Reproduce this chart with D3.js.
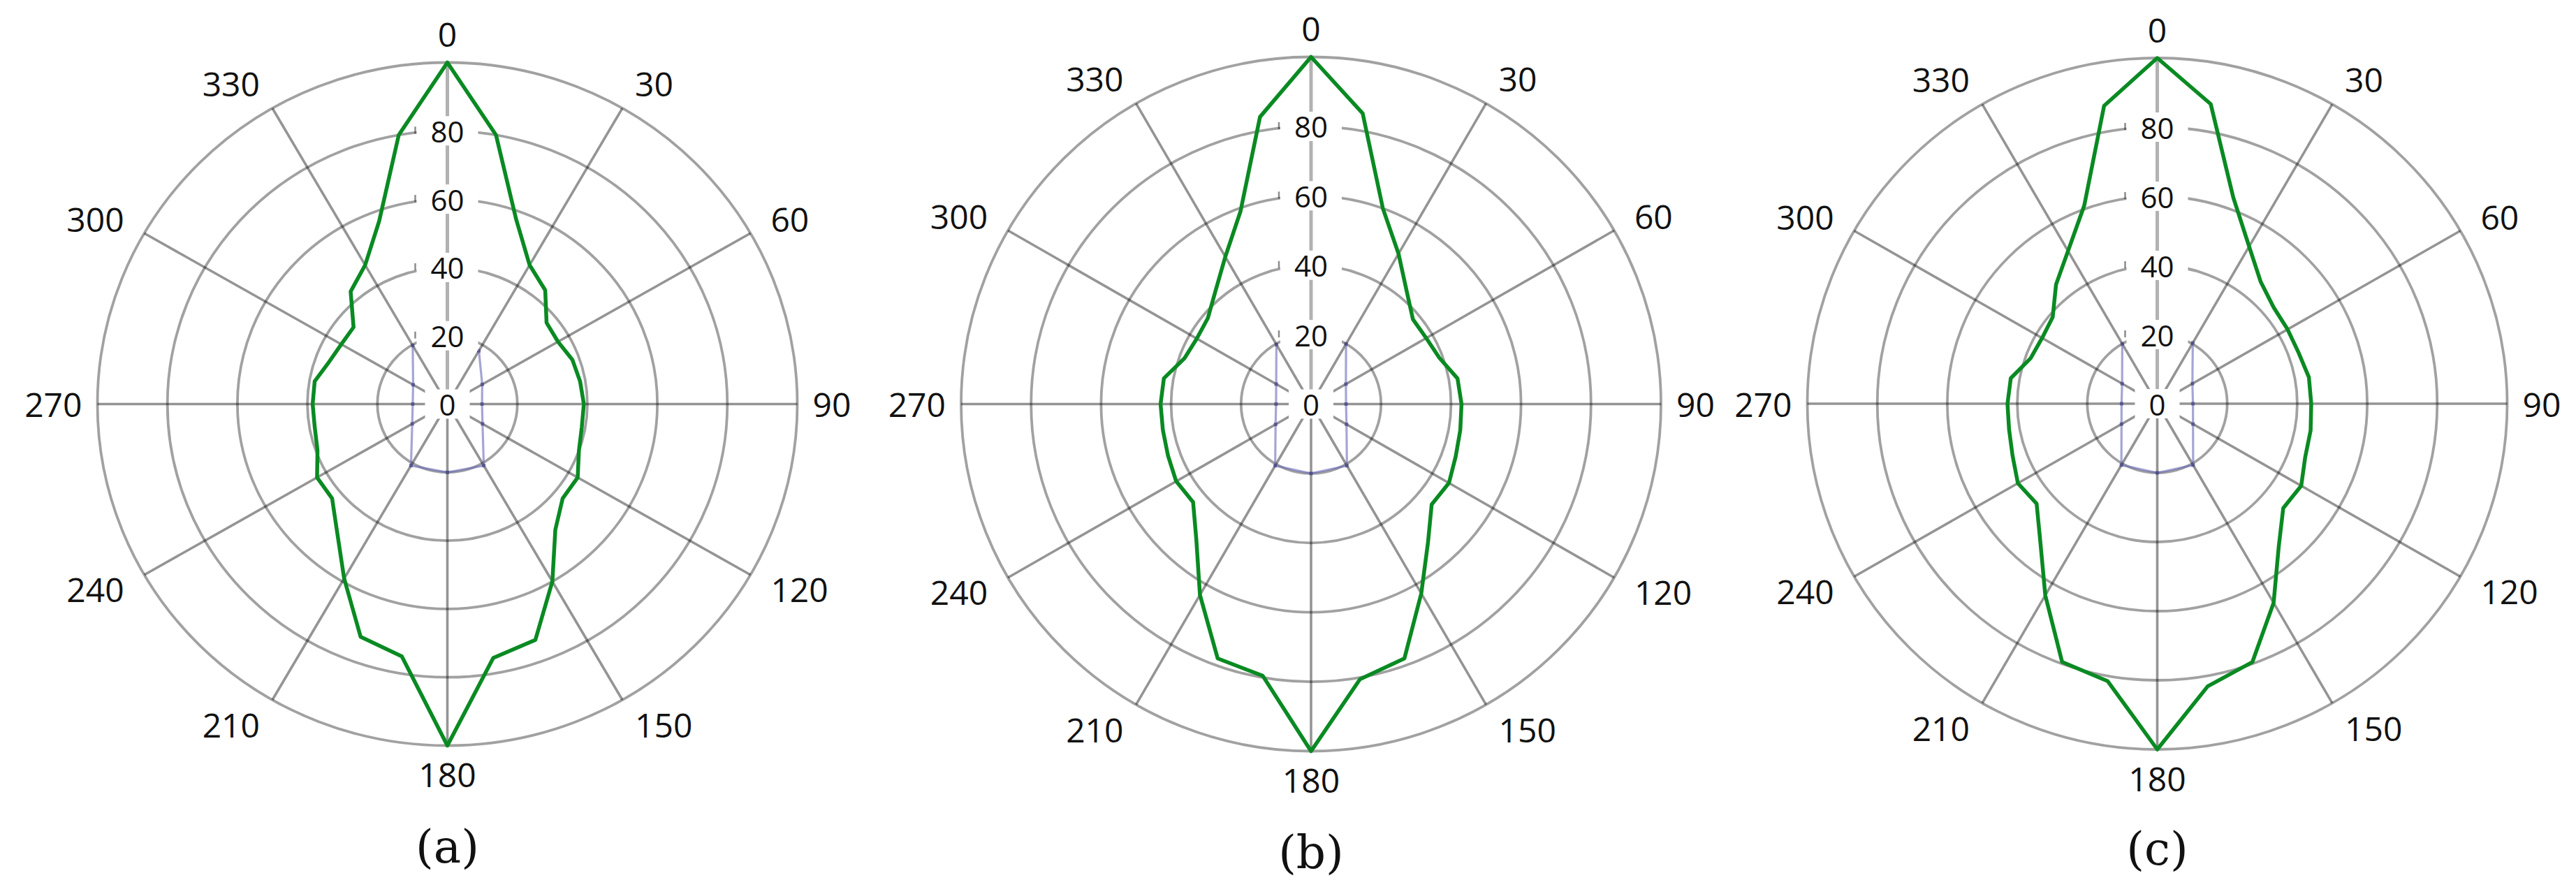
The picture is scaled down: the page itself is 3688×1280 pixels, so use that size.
<!DOCTYPE html>
<html><head><meta charset="utf-8">
<script src="https://cdn.jsdelivr.net/npm/d3@7"></script>
<style>html,body{margin:0;padding:0;background:#fff;} svg{display:block;}</style>
</head><body>
<svg id="chart" width="3688" height="1280"></svg>
<script>
// ---- data ----
const angleCategories = [0,10,20,30,40,50,60,70,80,90,100,110,120,130,140,150,160,170,
                         180,190,200,210,220,230,240,250,260,270,280,290,300,310,320,330,340,350];
const seriesA = [100,80,57.5,47,43.5,37,36.5,38,38.5,39,39,40,43,43,48,60,73.5,75.5,
                 100,75,72.5,59,49,43,43,39.5,38.5,38.5,38.5,36,35,35,43,47,57,80];
const seriesB = [100,85,60,50,42.5,38,38,39,42.5,43,43.3,44,45.5,45,52,63,78,80.5,
                 100,79.5,78,63.5,51,44,44.5,43.5,43,43,42.7,38.5,37.7,38.5,42.5,49,59,84];
const seriesC = [100,88,63.5,52.5,46,43.4,43,43,44,44,44.5,45,47.5,47,54,66.5,79.5,83,
                 100,81.5,79.5,64,52,45,46,44,43,42.8,42.5,38.5,38,39,45,51,61,87.5];
const refAngles = [30,60,90,120,150,180,210,240,270,300,330];
const refA = [18,11.5,9.9,11.6,20.8,20,20.8,11.6,9.9,11.3,19.8];
const refB = [20,11.5,10,11.7,20.5,20,20.5,11.7,10,11.5,19.8];
const refC = [20.3,11.6,10.2,11.8,20.5,20,20.5,11.8,10.2,11.6,20];
const ringTicks = [20,40,60,80,100];
const ringLabels = [0,20,40,60,80];
const angleTicks = [0,30,60,90,120,150,180,210,240,270,300,330];
const panelNames = ["(a)","(b)","(c)"];

// ---- layout ----
const layout = [
  {cx:640.5, cy:578.5, rx:501, ry:489, labelY:1212},
  {cx:1877,  cy:578.5, rx:501, ry:497, labelY:1220},
  {cx:3088.5,cy:578,   rx:501, ry:495, labelY:1215}
];
const allSeries = [seriesA, seriesB, seriesC];
const allRefs = [refA, refB, refC];

const svg = d3.select("#chart");
const toRad = d => d*Math.PI/180;
const numFont = "'Open Sans', 'Noto Sans', sans-serif";

layout.forEach((L, i) => {
  const g = svg.append("g");
  const sx = d3.scaleLinear().domain([0,100]).range([0, L.rx]);
  const sy = d3.scaleLinear().domain([0,100]).range([0, L.ry]);
  const px = (a, v) => L.cx + Math.sin(toRad(a))*sx(v);
  const py = (a, v) => L.cy - Math.cos(toRad(a))*sy(v);

  // rings
  g.selectAll("ellipse.ring").data(ringTicks).join("ellipse")
    .attr("cx", L.cx).attr("cy", L.cy)
    .attr("rx", d => sx(d)).attr("ry", d => sy(d))
    .attr("fill","none").attr("stroke","rgba(0,0,0,0.37)").attr("stroke-width",3.8);

  // spokes
  g.selectAll("line.spoke").data(angleTicks).join("line")
    .attr("x1", L.cx).attr("y1", L.cy)
    .attr("x2", d => px(d,100)).attr("y2", d => py(d,100))
    .attr("stroke", d => d===0 ? "rgba(0,0,0,0.30)" : "rgba(0,0,0,0.42)")
    .attr("stroke-width", d => d===0 ? 5 : 3.6);

  // reference (blue) series — open polyline
  const refPts = refAngles.map((a,k) => [px(a, allRefs[i][k]), py(a, allRefs[i][k])]);
  g.append("path").attr("d", d3.line()(refPts))
    .attr("fill","none").attr("stroke","rgba(105,105,185,0.6)").attr("stroke-width",3.2);
  g.selectAll("rect.mk").data(refPts).join("rect")
    .attr("x", d => d[0]-2.5).attr("y", d => d[1]-2.5).attr("width",5).attr("height",5)
    .attr("fill","rgba(70,70,130,0.7)");

  // main (green) series — closed
  const vals = allSeries[i];
  const line = d3.line()
    .x((v,k) => px(angleCategories[k], v))
    .y((v,k) => py(angleCategories[k], v))
    .curve(d3.curveLinearClosed);
  g.append("path").attr("d", line(vals))
    .attr("fill","none").attr("stroke","#0a8a22").attr("stroke-width",5.5)
    .attr("stroke-linejoin","round");

  // radial value labels with white boxes
  ringLabels.forEach(v => {
    const y = L.cy - sy(v);
    const t = g.append("text").attr("x", L.cx).attr("y", y)
      .attr("text-anchor","middle").attr("dominant-baseline","central")
      .attr("font-family", numFont).attr("font-size", 42).attr("fill","#111")
      .text(v);
    const w = t.node().getComputedTextLength();
    g.insert("rect", () => t.node())
      .attr("x", L.cx - w/2 - 20).attr("y", y - 21)
      .attr("width", w + 40).attr("height", 42).attr("fill","#fff");
    if (v > 0) {
      g.append("line").attr("x1", L.cx - w/2 - 22).attr("x2", L.cx - w/2 - 22)
        .attr("y1", y - 6).attr("y2", y + 4)
        .attr("stroke","rgba(0,0,0,0.45)").attr("stroke-width",2.5);
    }
  });

  // angle labels
  const gapX = d => 36 - 14*Math.pow(Math.abs(Math.sin(toRad(d))), 12);
  g.selectAll("text.ang").data(angleTicks).join("text")
    .attr("x", d => L.cx + Math.sin(toRad(d))*(L.rx + gapX(d)))
    .attr("y", d => L.cy - Math.cos(toRad(d))*(L.ry+41))
    .attr("text-anchor", d => Math.abs(Math.sin(toRad(d)))<0.01 ? "middle" : (Math.sin(toRad(d))>0 ? "start" : "end"))
    .attr("dominant-baseline","central")
    .attr("font-family", numFont).attr("font-size", 48).attr("fill","#111")
    .text(d => d);

  // panel label
  g.append("text").attr("x", L.cx).attr("y", L.labelY)
    .attr("text-anchor","middle").attr("dominant-baseline","central")
    .attr("font-family","'DejaVu Serif', 'Liberation Serif', serif")
    .attr("font-size", 66).attr("fill","#111")
    .text(panelNames[i]);
});
</script>
</body></html>
